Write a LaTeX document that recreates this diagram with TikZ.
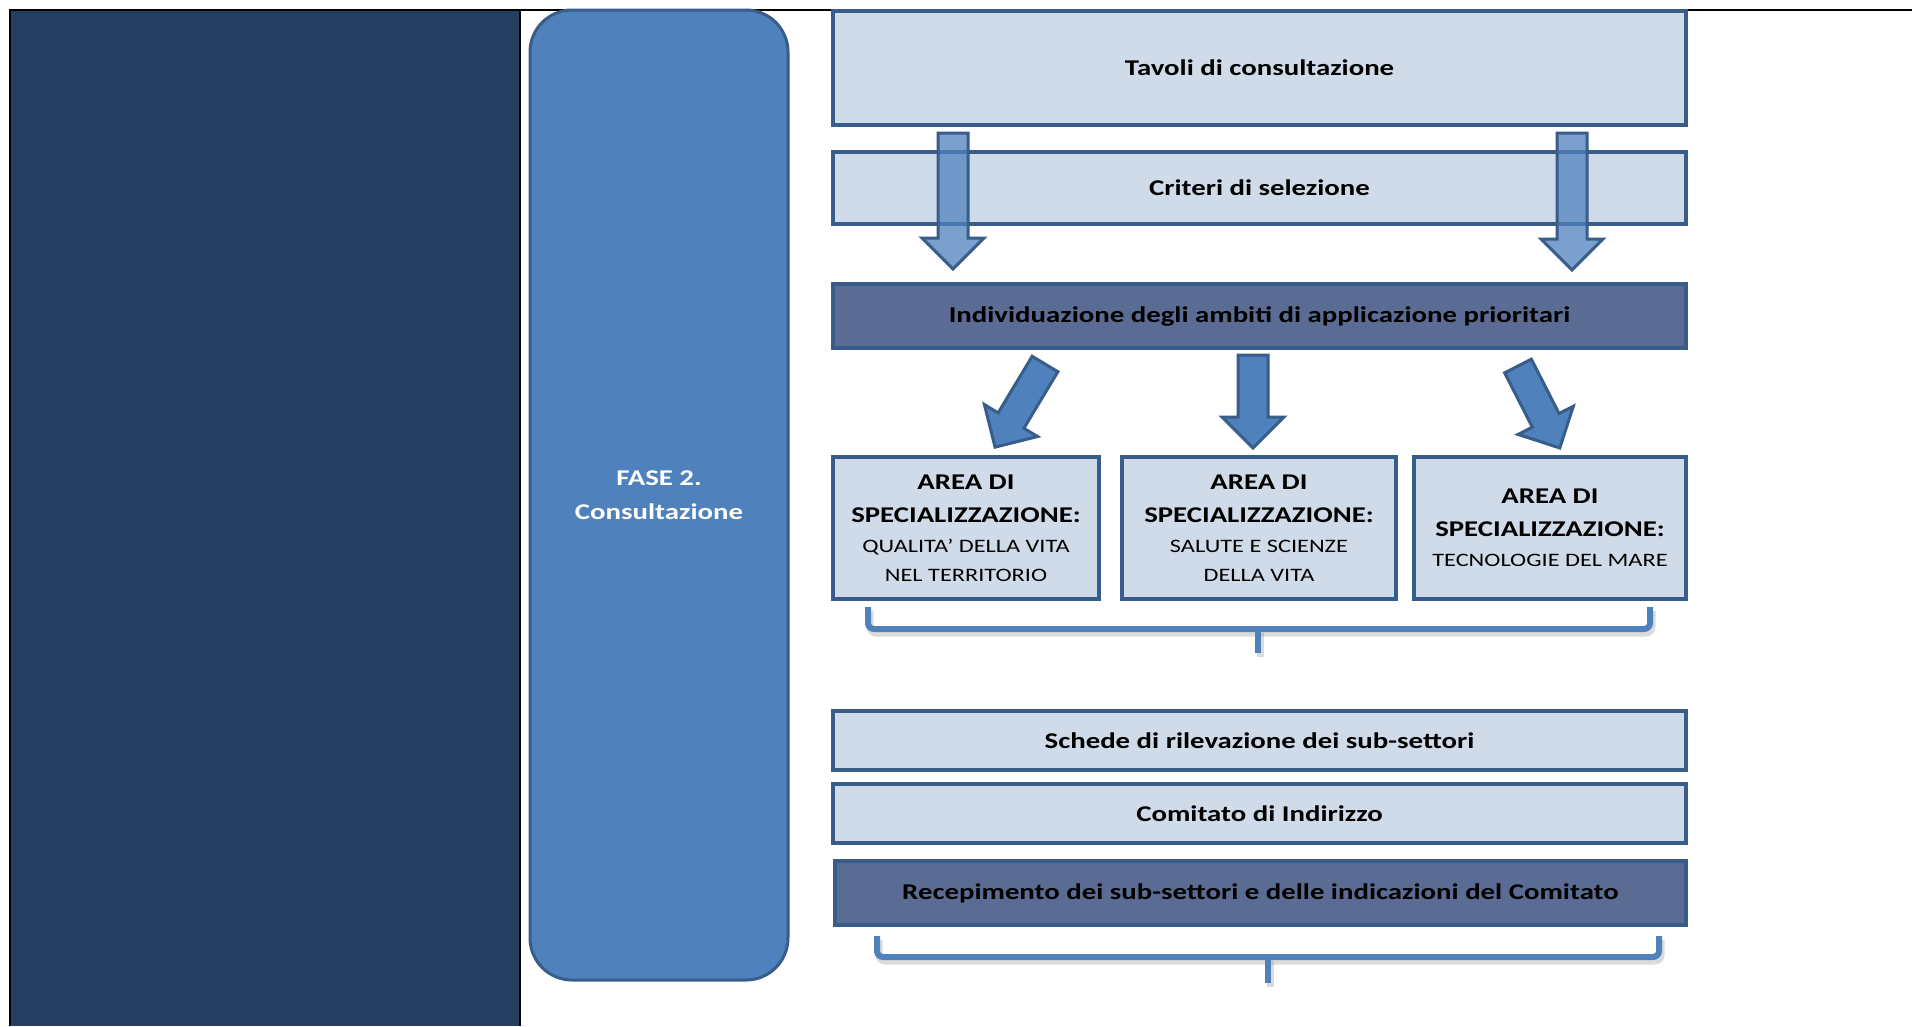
\documentclass[tikz,border=0pt]{standalone}
\usepackage{fontspec}
\setmainfont{Carlito}[FakeStretch=1.28]
\definecolor{navy}{HTML}{243F60}
\definecolor{midblue}{HTML}{4F81BD}
\definecolor{edgeblue}{HTML}{385D8A}
\definecolor{lightfill}{HTML}{D0DBEA}
\definecolor{darkfill}{HTML}{5A6B94}
\newcommand{\blockarrow}[5]{%
  \draw[#5, shift={(#1,#2)}, rotate=#3]
    (-15,0) -- (15,0) -- (15,{#4-31}) -- (31,{#4-31}) -- (0,#4)
    -- (-31,{#4-31}) -- (-15,{#4-31}) -- cycle;}
\begin{document}
\begin{tikzpicture}[x=1pt,y=-1pt,
  lbox/.style={draw=edgeblue, fill=lightfill, line width=3.5pt, inner sep=0pt,
    font=\bfseries\fontsize{22.5}{33}\selectfont, align=center, text=black},
  dbox/.style={lbox, fill=darkfill},
  fasebox/.style={draw=edgeblue, fill=midblue, line width=3pt, rounded corners=42pt,
    inner sep=0pt, text=white, font=\bfseries\fontsize{22.5}{34}\selectfont, align=center},
  topA/.style={fill=midblue, fill opacity=0.75, draw=edgeblue, line width=3pt},
  botA/.style={fill=midblue, draw=edgeblue, line width=3pt},
  brack/.style={midblue, line width=6pt, rounded corners=6pt},
  brshadow/.style={black!40, opacity=0.35, line width=7pt, rounded corners=6pt},
  reg/.style={}]
\useasboundingbox (0,0) rectangle (1912,1026);
\fill[white] (0,0) rectangle (1912,1026);
% left dark panel and frame lines
\fill[navy] (10,10) rectangle (520,1026);
\draw[black, line width=2pt] (10,1026) -- (10,10) -- (1912,10);
\draw[black, line width=2pt] (520,10) -- (520,1026);
% phase box
\node[fasebox, minimum width=258pt, minimum height=970pt] (fase) at (659,495) {FASE 2.\\Consultazione};
% boxes
\node[lbox, minimum width=853pt, minimum height=114pt] (tav) at (1259.5,68) {Tavoli di consultazione};
\node[lbox, minimum width=853pt, minimum height=72pt] (crit) at (1259.5,188) {Criteri di selezione};
\node[dbox, minimum width=853pt, minimum height=64pt] (ind) at (1259.5,316) {Individuazione degli ambiti di applicazione prioritari};
\node[lbox, minimum width=266pt, minimum height=142pt] (a1) at (966,528)
  {AREA DI\\SPECIALIZZAZIONE:\\[-3pt]{\mdseries\fontsize{19}{29}\selectfont QUALITA’ DELLA VITA}\\[-4pt]{\mdseries\fontsize{19}{29}\selectfont NEL TERRITORIO}};
\node[lbox, minimum width=274pt, minimum height=142pt] (a2) at (1259,528)
  {AREA DI\\SPECIALIZZAZIONE:\\[-3pt]{\mdseries\fontsize{19}{29}\selectfont SALUTE E SCIENZE}\\[-4pt]{\mdseries\fontsize{19}{29}\selectfont DELLA VITA}};
\node[lbox, minimum width=272pt, minimum height=142pt] (a3) at (1550,528)
  {AREA DI\\SPECIALIZZAZIONE:\\[-3pt]{\mdseries\fontsize{19}{29}\selectfont TECNOLOGIE DEL MARE}};
\node[lbox, minimum width=853pt, minimum height=59pt] (sch) at (1259.5,740.5) {Schede di rilevazione dei sub-settori};
\node[lbox, minimum width=853pt, minimum height=59pt] (com) at (1259.5,813.5) {Comitato di Indirizzo};
\node[dbox, minimum width=851pt, minimum height=64pt] (rec) at (1260.5,893) {Recepimento dei sub-settori e delle indicazioni del Comitato};
% block arrows
\blockarrow{953}{133}{0}{136}{topA}
\blockarrow{1572}{133}{0}{137}{topA}
\blockarrow{1045}{364}{-31}{97}{botA}
\blockarrow{1253}{355}{0}{93}{botA}
\blockarrow{1518}{366}{27}{92}{botA}
% brackets
\draw[brshadow, shift={(2,4)}] (868,607) -- (868,629) -- (1650,629) -- (1650,607);
\draw[brshadow, shift={(2,4)}] (1258,629) -- (1258,653);
\draw[brack] (868,607) -- (868,629) -- (1650,629) -- (1650,607);
\draw[brack, rounded corners=0pt] (1258,629) -- (1258,653);
\draw[brshadow, shift={(2,4)}] (877,936) -- (877,957) -- (1659,957) -- (1659,936);
\draw[brshadow, shift={(2,4)}] (1268,957) -- (1268,983);
\draw[brack] (877,936) -- (877,957) -- (1659,957) -- (1659,936);
\draw[brack, rounded corners=0pt] (1268,957) -- (1268,983);
\end{tikzpicture}
\end{document}
